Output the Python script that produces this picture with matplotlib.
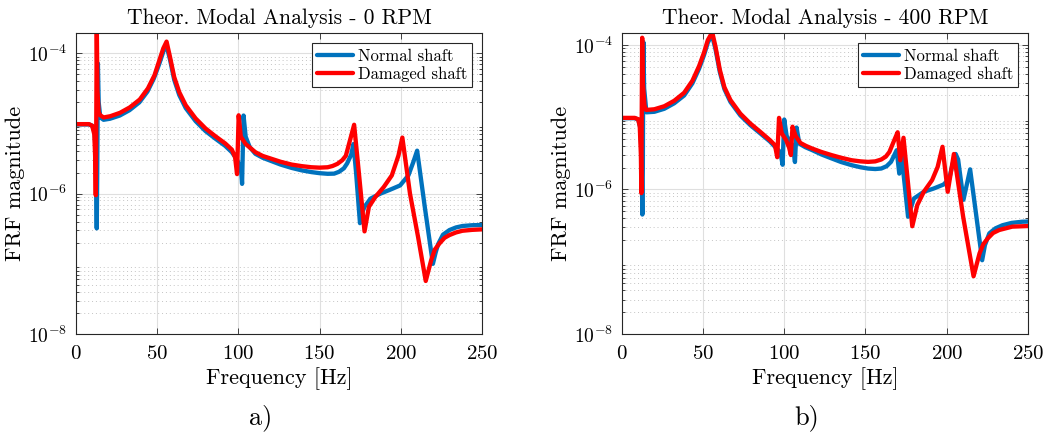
import matplotlib
matplotlib.use("Agg")
import matplotlib.pyplot as plt
from matplotlib.ticker import LogLocator, NullFormatter, FixedLocator

plt.rcParams['font.family'] = ['cmr10', 'DejaVu Serif']
plt.rcParams['mathtext.fontset'] = 'cm'
plt.rcParams['axes.formatter.use_mathtext'] = True
plt.rcParams['axes.unicode_minus'] = False

# ---------------- data: 0 RPM ----------------
f_normal_0 = [0, 8, 10, 11.5, 12.3, 12.8, 13.1, 13.5, 14.0, 15, 17, 21, 27, 33, 39, 44, 48, 51.4,
              53.8, 55.6, 57.9, 60.5, 63.6, 67.6, 73.7, 79.8, 85.8, 91.9, 96, 99, 100.5, 101.8,
              102.3, 103.2, 104.5, 107, 110.5, 115, 120.6, 126, 132.8, 139, 145, 150, 155, 159,
              162, 165, 167, 169.5, 170.9, 172.5, 174.9, 176.3, 177.7, 181.4, 187.4, 193.5,
              199.6, 204.7, 207.7, 210.1, 214.8, 219.8, 221.5, 223, 226, 230, 234, 238, 244, 250]
y_normal_0 = [9.7e-6, 9.7e-6, 9.3e-6, 7.5e-6, 3e-6, 3.2e-7, 2e-6, 7.2e-5, 2e-5, 1.22e-5, 1.13e-5,
              1.17e-5, 1.3e-5, 1.55e-5, 2.0e-5, 2.85e-5, 4.4e-5, 7.2e-5, 1.06e-4, 1.33e-4, 8.2e-5,
              4.2e-5, 2.55e-5, 1.66e-5, 1.08e-5, 7.8e-6, 6.1e-6, 4.8e-6, 3.9e-6, 3.1e-6, 2.6e-6,
              2.0e-6, 1.38e-6, 1.3e-5, 6.5e-6, 4.6e-6, 3.7e-6, 3.25e-6, 2.9e-6, 2.6e-6, 2.33e-6,
              2.15e-6, 2.03e-6, 1.96e-6, 1.92e-6, 1.93e-6, 2.05e-6, 2.3e-6, 2.7e-6, 3.6e-6, 5.1e-6,
              2e-6, 3.8e-7, 5.4e-7, 6.5e-7, 8.5e-7, 1.0e-6, 1.14e-6, 1.31e-6, 1.82e-6, 2.8e-6,
              4.1e-6, 6.5e-7, 1.0e-7, 1.45e-7, 1.9e-7, 2.6e-7, 3.03e-7, 3.3e-7, 3.46e-7, 3.55e-7,
              3.58e-7]

f_damaged_0 = [0, 8, 10, 11.3, 11.9, 12.2, 12.5, 12.8, 13.2, 14.0, 15, 17, 21.1, 27.1, 33.2, 39.3,
               44.3, 48.4, 51.4, 53.8, 55.8, 57.9, 60.5, 63.6, 67.6, 73.7, 79.8, 85.8, 91.9, 96,
               98, 99.2, 100.2, 101.5, 104.5, 110.5, 115, 120.6, 126, 132.8, 139, 145, 150, 155,
               158, 161, 164, 166.2, 169.2, 171.3, 174.3, 177.7, 180.4, 184.4, 189.5, 194.5,
               198.6, 201, 205.7, 210.7, 215.4, 218.8, 221, 223.9, 227, 230, 234, 238, 244, 250]
y_damaged_0 = [9.8e-6, 9.8e-6, 9.3e-6, 7e-6, 3e-6, 9.5e-7, 1e-5, 3e-4, 3e-5, 1.45e-5, 1.31e-5,
               1.22e-5, 1.27e-5, 1.42e-5, 1.7e-5, 2.2e-5, 3.16e-5, 4.9e-5, 8.0e-5, 1.18e-4, 1.47e-4,
               8.9e-5, 4.6e-5, 2.8e-5, 1.82e-5, 1.18e-5, 8.5e-6, 6.6e-6, 5.2e-6, 4.25e-6, 3.3e-6,
               1.9e-6, 1.31e-5, 6.5e-6, 5.1e-6, 3.9e-6, 3.45e-6, 3.13e-6, 2.85e-6, 2.6e-6, 2.47e-6,
               2.38e-6, 2.35e-6, 2.38e-6, 2.48e-6, 2.66e-6, 3.0e-6, 3.47e-6, 6.3e-6, 9.6e-6, 1.9e-6,
               2.9e-7, 6.5e-7, 9.0e-7, 1.24e-6, 1.82e-6, 3.5e-6, 6.3e-6, 1.0e-6, 2.4e-7, 5.7e-8,
               1.14e-7, 1.6e-7, 1.96e-7, 2.35e-7, 2.57e-7, 2.8e-7, 2.96e-7, 3.05e-7, 3.1e-7]

# ---------------- data: 400 RPM ----------------
f_normal_400 = [0, 8, 10.2, 11.5, 12.2, 12.7, 13.0, 13.3, 13.8, 15.2, 20.1, 26.2, 32.3, 38.4, 43.5,
                47.6, 50.6, 53.0, 55.5, 57.7, 60.4, 63.2, 66.9, 73, 79.1, 85.2, 91.3, 94.3, 97,
                98.2, 99, 100, 101.5, 104, 105.5, 106.6, 107.6, 109.3, 113, 117.3, 123, 129.4, 135,
                141.5, 147, 151.6, 156, 159.7, 163, 165.7, 169.2, 170.8, 172.2, 176.2, 179.8, 185.9,
                191.9, 198, 201.5, 203.5, 205.5, 207, 210.3, 214.4, 221.8, 223.5, 226.2, 230, 234.3,
                240, 246.4, 250]
y_normal_400 = [9.7e-6, 9.7e-6, 9.3e-6, 7e-6, 3e-6, 4.5e-7, 2e-6, 1.1e-4, 2.5e-5, 1.17e-5, 1.19e-5,
                1.31e-5, 1.56e-5, 2.0e-5, 2.95e-5, 4.7e-5, 7.2e-5, 1.08e-4, 1.38e-4, 8.8e-5, 4.2e-5,
                2.45e-5, 1.63e-5, 1.06e-5, 7.8e-6, 6.0e-6, 4.6e-6, 3.9e-6, 3.4e-6, 2.8e-6, 2.2e-6,
                9.3e-6, 5.5e-6, 4.5e-6, 3.8e-6, 2.4e-6, 7.2e-6, 4.3e-6, 3.85e-6, 3.5e-6, 3.05e-6,
                2.68e-6, 2.4e-6, 2.17e-6, 2.03e-6, 1.95e-6, 1.92e-6, 1.95e-6, 2.1e-6, 2.41e-6, 3.5e-6,
                1.66e-6, 2.98e-6, 4.2e-7, 7.5e-7, 9.3e-7, 1.03e-6, 1.17e-6, 1.4e-6, 2.2e-6, 3.1e-6,
                2.6e-6, 7.2e-7, 1.9e-6, 1.05e-7, 1.7e-7, 2.47e-7, 2.9e-7, 3.2e-7, 3.45e-7, 3.58e-7,
                3.6e-7]

f_damaged_400 = [0, 8, 10.1, 11.1, 11.8, 12.1, 12.3, 12.6, 13.0, 14.0, 15.0, 20.1, 26.2, 32.3, 38.4,
                 43.5, 47.6, 50.6, 53.0, 55.7, 57.7, 60.4, 63.2, 66.9, 73, 79.1, 85.2, 91.3, 94.3,
                 95.7, 96.8, 98.5, 101.2, 103, 104.1, 105.1, 107, 110, 113.5, 117.3, 123, 129.4, 135,
                 141.5, 147, 151.6, 156, 159.7, 162.5, 164.7, 167.7, 169.8, 171.4, 173.4, 178.8,
                 181.9, 185.9, 191, 194.4, 197.4, 200.6, 204.4, 210.1, 216.5, 220.2, 222.5, 225.2,
                 228.5, 232.3, 240.3, 250]
y_damaged_400 = [9.8e-6, 9.8e-6, 9.4e-6, 7.5e-6, 3e-6, 8.9e-7, 1e-5, 1.26e-4, 3e-5, 1.45e-5, 1.26e-5,
                 1.29e-5, 1.42e-5, 1.69e-5, 2.18e-5, 3.2e-5, 5.1e-5, 7.8e-5, 1.17e-4, 1.5e-4, 9.5e-5,
                 4.5e-5, 2.6e-5, 1.73e-5, 1.12e-5, 8.2e-6, 6.3e-6, 4.8e-6, 4.1e-6, 2.8e-6, 9.8e-6,
                 6e-6, 4.8e-6, 3.8e-6, 3e-6, 7.4e-6, 5.5e-6, 4.4e-6, 4.0e-6, 3.68e-6, 3.3e-6, 2.98e-6,
                 2.75e-6, 2.54e-6, 2.45e-6, 2.41e-6, 2.45e-6, 2.6e-6, 2.85e-6, 3.3e-6, 4.8e-6, 6.2e-6,
                 2.54e-6, 5.2e-6, 3.1e-7, 6.1e-7, 9.3e-7, 1.35e-6, 2.05e-6, 3.9e-6, 9.3e-7, 3.1e-6,
                 4.2e-7, 6.3e-8, 1.31e-7, 1.75e-7, 2.1e-7, 2.5e-7, 2.75e-7, 3.06e-7, 3.12e-7]

titles = ["Theor. Modal Analysis - 0 RPM", "Theor. Modal Analysis - 400 RPM"]
panel_labels = ["a)", "b)"]
series_labels = ["Normal shaft", "Damaged shaft"]
x_ticks = [0, 50, 100, 150, 200, 250]
y_limits = [(1e-8, 1.97e-4), (1e-8, 1.48e-4)]

BLUE = (0, 0.447, 0.741)
RED = (1, 0, 0)

fig = plt.figure(figsize=(10.55, 4.37), dpi=100)
rects = [[0.0720, 0.2357, 0.3848, 0.6895], [0.5893, 0.2357, 0.3851, 0.6895]]
data = [(f_normal_0, y_normal_0, f_damaged_0, y_damaged_0),
        (f_normal_400, y_normal_400, f_damaged_400, y_damaged_400)]

for i in range(2):
    ax = fig.add_axes(rects[i])
    fn, yn, fd, yd = data[i]
    ax.plot(fn, yn, color=BLUE, lw=3.1, solid_joinstyle='round', solid_capstyle='round',
            label=series_labels[0])
    ax.plot(fd, yd, color=RED, lw=3.1, solid_joinstyle='round', solid_capstyle='round',
            label=series_labels[1])
    ax.set_yscale('log')
    ax.set_xlim(0, 250)
    ax.set_ylim(*y_limits[i])
    ax.xaxis.set_major_locator(FixedLocator(x_ticks))
    ax.yaxis.set_major_locator(FixedLocator([1e-8, 1e-6, 1e-4]))
    ax.yaxis.set_minor_locator(LogLocator(base=10, subs=range(2, 10), numticks=50))
    ax.yaxis.set_minor_formatter(NullFormatter())
    ax.set_yticklabels([r'$10^{-8}$', r'$10^{-6}$', r'$10^{-4}$'])
    ax.grid(True, which='major', color='#dfdfdf', lw=0.8, ls='-')
    ax.grid(True, which='minor', axis='y', color='#c4c4c4', lw=0.7, ls=(0, (1, 3)))
    ax.set_axisbelow(True)
    ax.tick_params(which='both', direction='in', top=True, right=True,
                   color='#262626', width=0.6)
    ax.tick_params(which='major', length=4)
    ax.tick_params(axis='x', which='major', pad=8, labelsize=15)
    ax.tick_params(axis='y', which='major', pad=6, labelsize=14)
    ax.tick_params(which='minor', length=2.5)
    for s in ax.spines.values():
        s.set_color('#262626')
        s.set_linewidth(0.8)
    ax.set_title(titles[i], fontsize=15.5, pad=6)
    ax.set_xlabel("Frequency [Hz]", fontsize=16, labelpad=3)
    ax.set_ylabel("FRF magnitude", fontsize=16, labelpad=2)
    leg = ax.legend(loc='upper right', bbox_to_anchor=(0.975, 0.965), borderaxespad=0,
                    fontsize=12, frameon=True, fancybox=False, edgecolor='#262626',
                    framealpha=1, handlelength=2.2, handletextpad=0.25, borderpad=0.3,
                    labelspacing=0.15)
    leg.get_frame().set_linewidth(0.8)
    cx = rects[i][0] + rects[i][2] / 2
    fig.text(cx - 0.017, 1 - 418 / 437, panel_labels[i], fontsize=19, ha='center', va='center')

fig.savefig("out.png", dpi=100)
